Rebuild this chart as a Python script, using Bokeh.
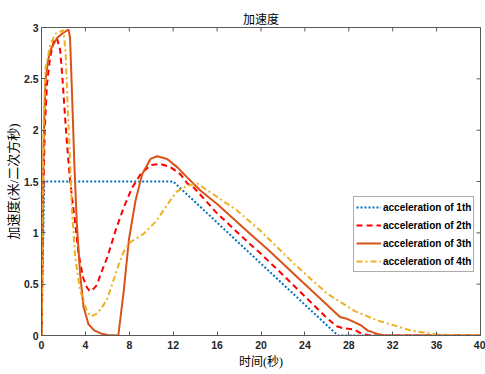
import math
from bokeh.plotting import figure
from bokeh.models import Range1d, FixedTicker, Legend, LegendItem
from bokeh.embed import file_html
from bokeh.resources import INLINE

# ---- data ----
x_ticks = [0, 4, 8, 12, 16, 20, 24, 28, 32, 36, 40]
y_ticks = [0, 0.5, 1, 1.5, 2, 2.5, 3]
y_tick_labels = ["0", "0.5", "1", "1.5", "2", "2.5", "3"]

acc1_t = [0, 0.25, 12.0, 27.0, 40]
acc1_a = [0, 1.5, 1.5, 0, 0]

acc2_t = [0, 0.15, 0.3, 0.5, 0.8, 1.1, 1.4, 1.7, 1.9, 2.1, 2.3, 2.6, 3.07, 3.37,
          3.8, 4.13, 4.4, 4.7, 5.04, 5.4, 5.99, 6.74, 7.5, 8.26, 9.02, 9.93,
          10.84, 11.75, 12.67, 13.3, 13.88, 16.0, 19.0, 19.95, 22.0, 24.0, 26.0,
          26.9, 27.5, 28.5, 29.1, 29.7, 30.2, 40]
acc2_a = [0, 1.3, 2.0, 2.45, 2.72, 2.86, 2.9, 2.78, 2.52, 2.2, 1.9, 1.51, 1.09, 0.8,
          0.56, 0.47, 0.43, 0.45, 0.49, 0.6, 0.76, 1.02, 1.25, 1.44, 1.57, 1.66,
          1.67, 1.64, 1.57, 1.48, 1.44, 1.19, 0.89, 0.80, 0.59, 0.38, 0.17,
          0.09, 0.07, 0.06, 0.02, 0.005, 0, 0]

acc3_t = [0, 0.1, 0.2, 0.36, 0.6, 0.82, 1.43, 2.0, 2.46, 2.6, 2.8, 3.0, 3.22, 3.52,
          3.83, 4.28, 4.8, 5.4, 6.0, 7.0, 7.5, 7.96, 8.56, 9.17, 9.93, 10.54,
          11.45, 12.36, 13.27, 14.5, 16.0, 19.0, 20.7, 23.0, 25.0, 27.2, 27.9,
          28.5, 29.1, 29.7, 30.6, 31.2, 32.0, 40]
acc3_a = [0, 1.0, 1.9, 2.48, 2.68, 2.78, 2.9, 2.95, 2.98, 2.9, 2.3, 1.65, 1.09, 0.6,
          0.28, 0.11, 0.05, 0.02, 0.005, 0, 0.44, 0.93, 1.31, 1.57, 1.72, 1.746,
          1.72, 1.64, 1.54, 1.41, 1.28, 0.99, 0.83, 0.60, 0.40, 0.18, 0.16,
          0.13, 0.10, 0.05, 0.016, 0.003, 0, 0]

acc4_t = [0, 0.1, 0.2, 0.36, 0.82, 1.28, 1.89, 2.0, 2.2, 2.4, 2.6, 2.76, 3.07, 3.52,
          4.13, 4.5, 5.0, 5.5, 6.0, 6.5, 7.0, 7.5, 8.1, 9.3, 10.5, 11.5, 12.3,
          13.3, 14.2, 16.0, 17.8, 19.95, 23.0, 26.0, 28.5, 30.6, 32.1, 33.6,
          35.0, 36.5, 37.5, 40]
acc4_a = [0, 1.3, 2.1, 2.6, 2.84, 2.94, 2.97, 2.97, 2.75, 2.2, 1.7, 1.25, 0.76, 0.44,
          0.24, 0.185, 0.21, 0.27, 0.36, 0.52, 0.68, 0.82, 0.91, 0.99, 1.12, 1.28,
          1.40, 1.46, 1.48, 1.35, 1.22, 1.02, 0.70, 0.41, 0.24, 0.146, 0.10, 0.05,
          0.025, 0.005, 0, 0]

labels = ["acceleration of 1th", "acceleration of 2th",
          "acceleration of 3th", "acceleration of 4th"]

# ---- figure ----
CJK = "Liberation Serif, Noto Sans CJK SC"
LAT = "Liberation Sans"
AXC = "#595959"
TXT = "#262626"

p = figure(width=485, height=374, output_backend="svg", toolbar_location=None,
           x_range=Range1d(0, 40), y_range=Range1d(0, 3),
           min_border_left=41, min_border_right=5, min_border_top=27,
           min_border_bottom=39)
p.background_fill_color = "white"
p.border_fill_color = "white"
p.outline_line_color = AXC
p.xgrid.visible = False
p.ygrid.visible = False

p.title.text = "加速度"
p.title.align = "center"
p.title.text_font = CJK
p.title.text_font_style = "normal"
p.title.text_font_size = "12px"
p.title.text_color = "black"
p.title.standoff = 1

for ax, ticks in ((p.xaxis[0], x_ticks), (p.yaxis[0], y_ticks)):
    ax.ticker = FixedTicker(ticks=ticks)
    ax.major_tick_in = 4
    ax.major_tick_out = 0
    ax.minor_tick_line_color = None
    ax.axis_line_color = AXC
    ax.major_tick_line_color = AXC
    ax.major_label_text_font = LAT
    ax.major_label_text_font_style = "bold"
    ax.major_label_text_font_size = "10.5px"
    ax.major_label_text_color = TXT
    ax.axis_label_text_font = CJK
    ax.axis_label_text_font_style = "normal"
    ax.axis_label_text_color = "black"

p.xaxis[0].axis_label_text_font_size = "12px"
p.yaxis[0].axis_label_text_font_size = "13px"
p.xaxis[0].major_label_standoff = 5
p.xaxis[0].axis_label_standoff = 3
p.yaxis[0].major_label_standoff = 3
p.yaxis[0].axis_label_standoff = 0

p.yaxis[0].major_label_overrides = {t: s for t, s in zip(y_ticks, y_tick_labels)}
p.xaxis[0].axis_label = "时间(秒)"
p.yaxis[0].axis_label = "加速度(米/二次方秒)"

# inward ticks on the top and right edges of the box
p.ray(x=x_ticks, y=[y_ticks[-1]] * len(x_ticks), length=4, length_units="screen",
      angle=-math.pi / 2, line_color=AXC, line_width=1)
p.ray(x=[x_ticks[-1]] * len(y_ticks), y=y_ticks, length=4, length_units="screen",
      angle=math.pi, line_color=AXC, line_width=1)

r1 = p.line(acc1_t, acc1_a, line_color="#0072BD", line_width=2, line_dash="2 2")
r2 = p.line(acc2_t, acc2_a, line_color="#FF0000", line_width=2, line_dash="6 4")
r3 = p.line(acc3_t, acc3_a, line_color="#D95319", line_width=2)
r4 = p.line(acc4_t, acc4_a, line_color="#EDB120", line_width=2, line_dash="6 3 2 3")

legend = Legend(items=[LegendItem(label=l, renderers=[r]) for l, r in
                       zip(labels, [r1, r2, r3, r4])],
                location=(312, 63))
legend.label_text_font = LAT
legend.label_text_font_style = "bold"
legend.label_text_font_size = "10px"
legend.label_text_color = "black"
legend.label_height = 16
legend.glyph_height = 16
legend.glyph_width = 25
legend.label_standoff = 2
legend.spacing = 2
legend.padding = 2
legend.margin = 0
legend.border_line_color = AXC
legend.border_line_width = 1
legend.background_fill_color = "white"
legend.background_fill_alpha = 1
p.add_layout(legend, "center")

open("out.html", "w").write(file_html(p, INLINE))
